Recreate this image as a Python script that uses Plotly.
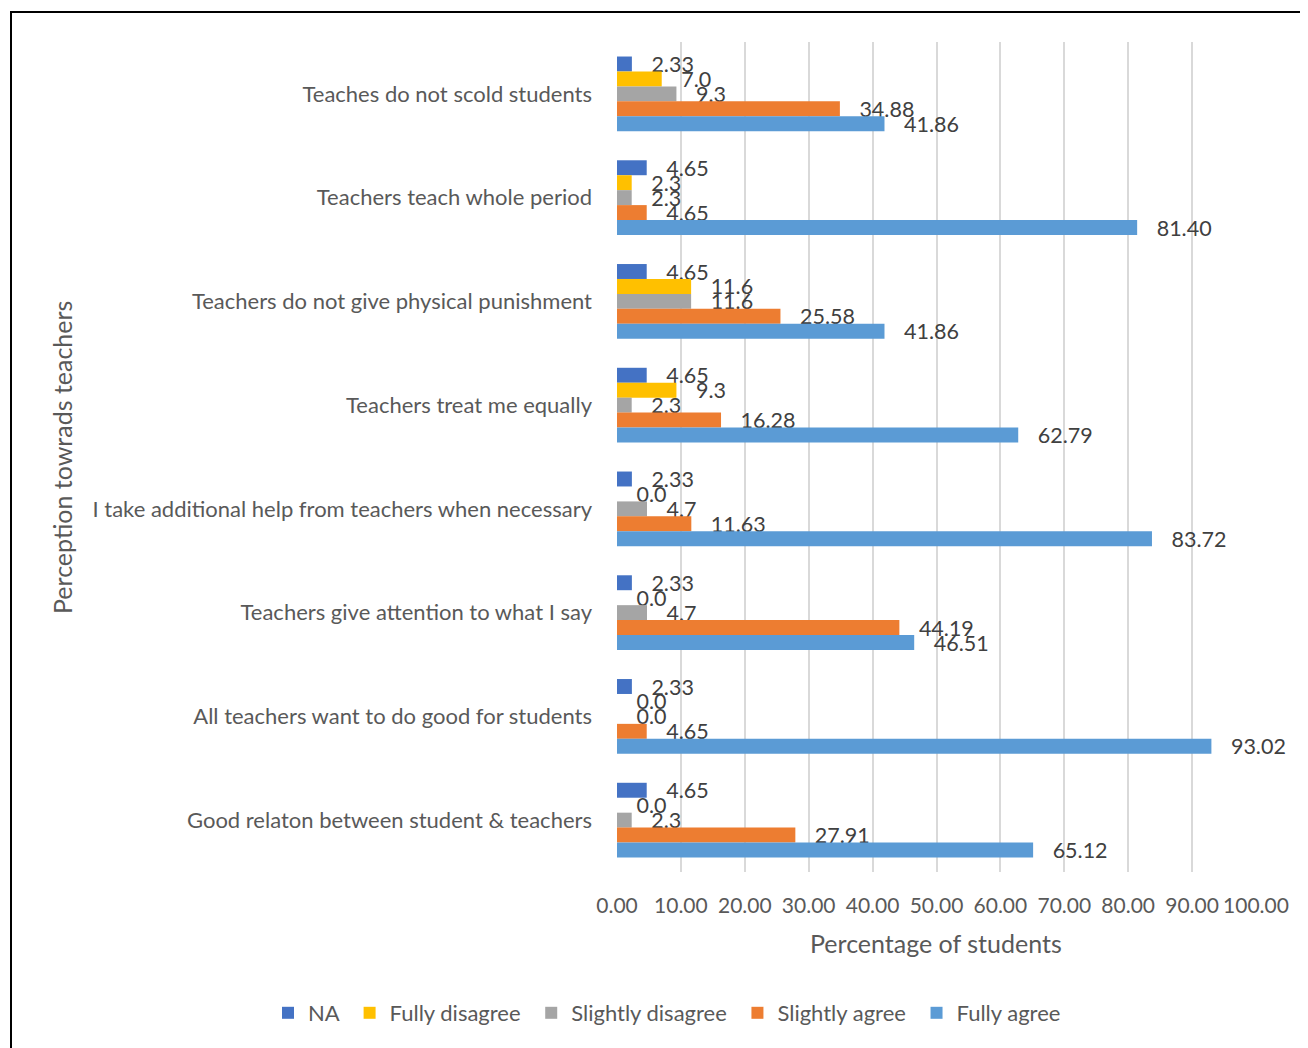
import plotly.graph_objects as go

categories = [
    "Teaches do not scold students",
    "Teachers teach whole period",
    "Teachers do not give physical punishment",
    "Teachers treat me equally",
    "I take additional help from teachers when necessary",
    "Teachers give attention to what I say",
    "All teachers want to do good for students",
    "Good relaton between student & teachers",
]
series_names = ["NA", "Fully disagree", "Slightly disagree", "Slightly agree", "Fully agree"]
na = [2.33, 4.65, 4.65, 4.65, 2.33, 2.33, 2.33, 4.65]
fully_disagree = [7.0, 2.3, 11.6, 9.3, 0.0, 0.0, 0.0, 0.0]
slightly_disagree = [9.3, 2.3, 11.6, 2.3, 4.7, 4.7, 0.0, 2.3]
slightly_agree = [34.88, 4.65, 25.58, 16.28, 11.63, 44.19, 4.65, 27.91]
fully_agree = [41.86, 81.40, 41.86, 62.79, 83.72, 46.51, 93.02, 65.12]
decimals = [2, 1, 1, 2, 2]
colors = ["#4472C4", "#FFC000", "#A5A5A5", "#ED7D31", "#5B9BD5"]
tick_vals = [0, 10, 20, 30, 40, 50, 60, 70, 80, 90, 100]
tick_text = ["0.00", "10.00", "20.00", "30.00", "40.00", "50.00", "60.00", "70.00", "80.00", "90.00", "100.00"]

FONT = "Lato"
TXT = "#595959"

fig = go.Figure()
for name, vals, dec, col in zip(series_names,
                                [na, fully_disagree, slightly_disagree, slightly_agree, fully_agree],
                                decimals, colors):
    fig.add_trace(go.Bar(
        y=categories, x=vals, name=name + "\u00a0", orientation="h",
        marker=dict(color=col, line=dict(width=0)),
        text=["   " + f"{v:.{dec}f}" for v in vals],
        textposition="outside", cliponaxis=False, constraintext="none",
        textfont=dict(family=FONT, size=21.5, color="#404040"),
    ))

# page has an 8px body margin: figure pixel = screen pixel - 8
OFF = 8
W, H = 1300, 1040
L, R, T, B = 617 - OFF, 52, 42 - OFF, 176
pw, ph = W - L - R, H - T - B

def px_x(p):
    return (p - OFF - L) / pw

def px_y(p):
    return (H - B - (p - OFF)) / ph

fig.add_shape(type="rect", xref="paper", yref="paper",
              x0=px_x(11), x1=px_x(W + 40), y0=px_y(H + 40), y1=px_y(12),
              line=dict(color="black", width=2), fillcolor="rgba(0,0,0,0)")

fig.add_annotation(text="Percentage of students", xref="paper", yref="paper",
                   x=px_x(936), y=px_y(943), xanchor="center", yanchor="middle",
                   showarrow=False, font=dict(family=FONT, size=25, color=TXT))
fig.add_annotation(text="Perception towrads teachers", xref="paper", yref="paper",
                   x=px_x(62), y=px_y(458), xanchor="center", yanchor="middle",
                   textangle=-90, showarrow=False, font=dict(family=FONT, size=25, color=TXT))

fig.update_layout(
    width=W, height=H,
    margin=dict(l=L, r=R, t=T, b=B),
    paper_bgcolor="white", plot_bgcolor="white",
    barmode="group", bargap=0.28, bargroupgap=0,
    font=dict(family=FONT, size=22, color=TXT),
    xaxis=dict(range=[0, 100], tickvals=tick_vals, ticktext=tick_text,
               showgrid=True, gridcolor="#D9D9D9", gridwidth=2, zeroline=False,
               showline=False, ticks="", ticklabelstandoff=19, tickangle=0,
               tickfont=dict(family=FONT, size=21, color=TXT)),
    yaxis=dict(autorange="reversed", showgrid=False, zeroline=False, showline=False,
               ticks="", ticklabelstandoff=24,
               tickfont=dict(family=FONT, size=22, color=TXT)),
    legend=dict(orientation="h", x=px_x(268), xanchor="left", y=px_y(1013), yanchor="middle",
                font=dict(family=FONT, size=22, color=TXT),
                traceorder="normal"),
    showlegend=True,
)

fig.write_html("out.html")
